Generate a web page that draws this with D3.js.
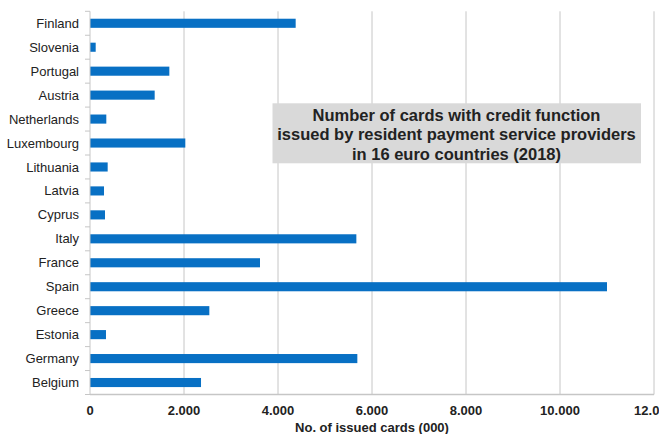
<!DOCTYPE html>
<html><head><meta charset="utf-8">
<script src="https://cdn.jsdelivr.net/npm/d3@7"></script>
<style>body{margin:0;background:#fff}svg{display:block}</style>
</head><body>
<svg id="c" width="659" height="434"></svg>
<script>
const countries = ["Finland","Slovenia","Portugal","Austria","Netherlands","Luxembourg","Lithuania","Latvia","Cyprus","Italy","France","Spain","Greece","Estonia","Germany","Belgium"];
const cards = [4376,121,1688,1376,347,2028,376,298,319,5667,3617,11000,2539,340,5688,2362];
const xTicks = [0,2000,4000,6000,8000,10000,12000];
const titleLines = ["Number of cards with credit function","issued by resident payment service providers","in 16 euro countries (2018)"];
const xTitle = "No. of issued cards (000)";

(function(){
const svg = d3.select("#c");
const pL = 90, pR = 654, pT = 11.3, pB = 394.5;
const font = "Liberation Sans, Arial, sans-serif";
const x = d3.scaleLinear().domain([0,12000]).range([pL,pR]);
const y = d3.scaleBand().domain(countries).range([pT,pB]).paddingInner(0.62).paddingOuter(0.31);
const yb = d3.scaleBand().domain(countries).range([pT,pB]);

// grid
svg.append("g").selectAll("line").data(xTicks.slice(1)).join("line")
  .attr("x1",d=>x(d)).attr("x2",d=>x(d)).attr("y1",pT).attr("y2",pB)
  .attr("stroke","#c6c6c6").attr("stroke-width",1);

// bars
svg.append("g").selectAll("rect").data(countries).join("rect")
  .attr("x",x(0)).attr("y",d=>y(d)).attr("height",y.bandwidth())
  .attr("width",(d,i)=>x(cards[i])-x(0)).attr("fill","#0870C4");

// left axis
const ga = svg.append("g");
ga.append("line").attr("x1",pL).attr("x2",pL).attr("y1",pT).attr("y2",pB).attr("stroke","#c6c6c6");
const bounds = countries.map(d=>yb(d)).concat([pB]);
ga.selectAll("line.t").data(bounds).join("line").attr("class","t")
  .attr("x1",pL-5).attr("x2",pL).attr("y1",d=>d).attr("y2",d=>d).attr("stroke","#c6c6c6");
ga.selectAll("text").data(countries).join("text")
  .attr("x",79).attr("y",d=>yb(d)+yb.bandwidth()/2).attr("dy","0.35em")
  .attr("text-anchor","end").attr("font-family",font).attr("font-size",13).attr("fill","#222")
  .text(d=>d);

// bottom axis
const gx = svg.append("g");
gx.append("line").attr("x1",pL).attr("x2",pR).attr("y1",pB).attr("y2",pB).attr("stroke","#c6c6c6").attr("stroke-width",1.5);
gx.selectAll("text").data(xTicks).join("text")
  .attr("x",d=>x(d)).attr("y",415).attr("text-anchor","middle")
  .attr("font-family",font).attr("font-size",13).attr("font-weight","bold").attr("fill","#222")
  .text(d=>d3.format(",")(d).replace(/,/g,"."));
svg.append("text").attr("x",372).attr("y",432).attr("text-anchor","middle")
  .attr("font-family",font).attr("font-size",13).attr("font-weight","bold").attr("fill","#222")
  .text(xTitle);

// title box
svg.append("rect").attr("x",272.5).attr("y",103.3).attr("width",368.5).attr("height",60).attr("fill","#d9d9d9");
svg.append("g").selectAll("text").data(titleLines).join("text")
  .attr("x",456.5).attr("y",(d,i)=>115+i*19.7).attr("dy","0.35em").attr("text-anchor","middle")
  .attr("font-family",font).attr("font-size",16.5).attr("font-weight","bold").attr("fill","#222")
  .text(d=>d);
})();
</script>
</body></html>
